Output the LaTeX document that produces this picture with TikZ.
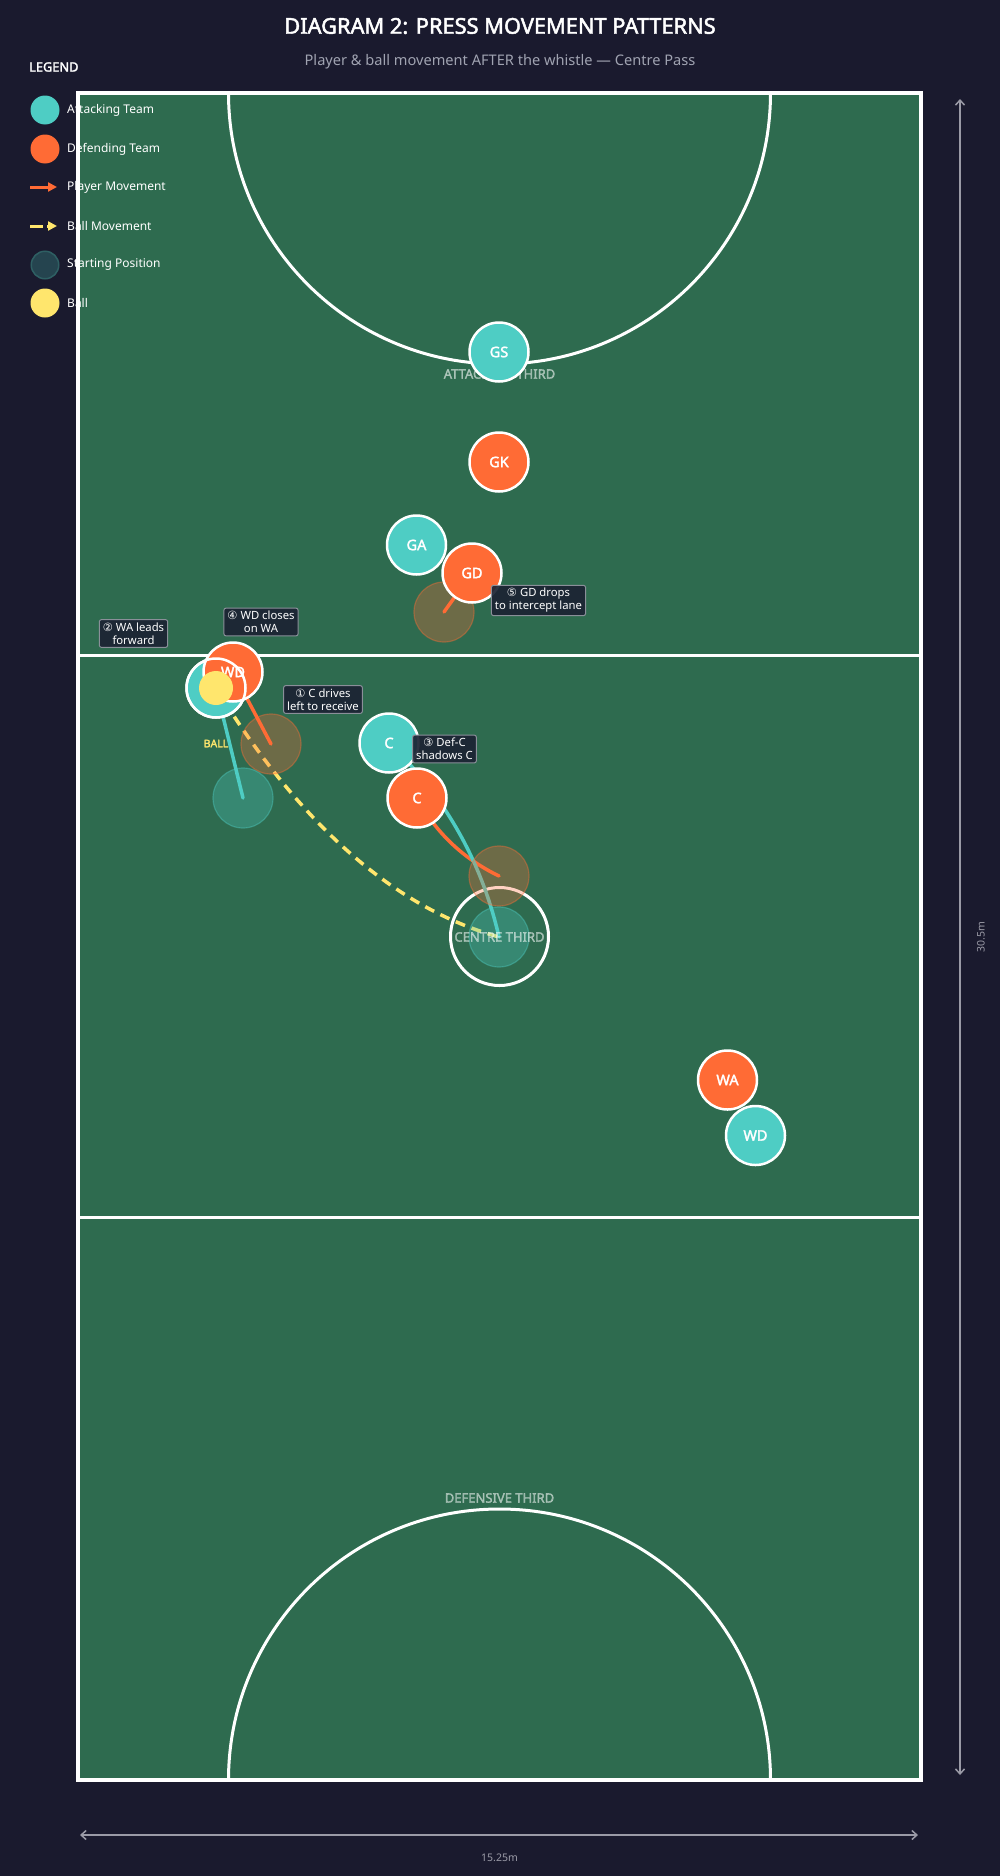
\documentclass[tikz,border=0pt]{standalone}
\usepackage{fontspec}
\setmainfont{Noto Sans}[AutoFakeBold=2.2]
\newfontfamily\symf{DejaVu Sans}
\usetikzlibrary{arrows.meta}
\pgfdeclarelayer{courtlayer}
\pgfdeclarelayer{movelayer}
\pgfdeclarelayer{ghostlayer}
\pgfsetlayers{courtlayer,movelayer,ghostlayer,main}
\definecolor{bg}{HTML}{1A1A2E}
\definecolor{court}{HTML}{2E6B4F}
\definecolor{att}{HTML}{4ECDC4}
\definecolor{def}{HTML}{FF6B35}
\definecolor{ballc}{HTML}{FFE66D}
\definecolor{boxc}{HTML}{1C2333}
\definecolor{notegray}{HTML}{8A8F99}
\definecolor{subgray}{HTML}{A0A3B1}
\definecolor{dimc}{HTML}{9A9AA6}
\definecolor{startfill}{HTML}{25444F}
\definecolor{startdraw}{HTML}{2E5F63}
\tikzset{
  player/.style={circle, minimum size=59pt, inner sep=0pt, line width=2.5pt, draw=white, text=white, font=\fontsize{14.5}{16}\selectfont\bfseries},
  attp/.style={player, fill=att},
  defp/.style={player, fill=def},
  ghosta/.style={circle, minimum size=60pt, inner sep=0pt, fill=att, fill opacity=0.3, draw=att, draw opacity=0.4, line width=1.2pt},
  ghostd/.style={circle, minimum size=60pt, inner sep=0pt, fill=def, fill opacity=0.3, draw=def, draw opacity=0.4, line width=1.2pt},
  ballnode/.style={circle, minimum size=34pt, inner sep=0pt, fill=ballc},
  mva/.style={draw=att, line width=3.5pt, line cap=round},
  mvd/.style={draw=def, line width=3.5pt, line cap=round},
  ballmv/.style={draw=ballc, line width=3.5pt, dash pattern=on 10pt off 7pt},
  note/.style={fill=boxc, fill opacity=0.92, text opacity=1, draw=notegray, draw opacity=1, line width=1pt, rounded corners=2pt, text=white, align=center, font=\fontsize{11.3}{13}\selectfont, inner xsep=3.5pt, inner ysep=3pt},
  zone/.style={text=white, text opacity=0.5, font=\fontsize{13}{15}\selectfont\bfseries},
  courtline/.style={draw=white, line width=3pt},
  dim/.style={draw=dimc, line width=1.5pt, {Straight Barb[length=5pt,width=9pt]}-{Straight Barb[length=5pt,width=9pt]}},
  legdot/.style={circle, minimum size=29pt, inner sep=0pt},
  legtext/.style={anchor=west, text=white, inner sep=0pt, font=\fontsize{12}{14}\selectfont},
  dimtext/.style={text=dimc, font=\fontsize{10.5}{12}\selectfont},
}
\begin{document}
\begin{tikzpicture}[x=1pt,y=-1pt]
\useasboundingbox (0,0) rectangle (1000,1876);
% ---------- court ----------
\begin{pgfonlayer}{courtlayer}
\fill[bg] (0,0) rectangle (1000,1876);
\fill[court] (78,93) rectangle (921,1780);
\begin{scope}
  \clip (78,93) rectangle (921,1780);
  \draw[courtline] (499.5,93) circle[radius=271];
  \draw[courtline] (499.5,1780) circle[radius=271];
\end{scope}
\draw[courtline] (78,655.3) -- (921,655.3);
\draw[courtline] (78,1217.7) -- (921,1217.7);
\draw[courtline] (499.5,936.5) circle[radius=49];
\draw[draw=white, line width=4pt] (78,93) rectangle (921,1780);
\end{pgfonlayer}

% ---------- starting positions ----------
\begin{pgfonlayer}{ghostlayer}
\node[ghostd] (gdS) at (444,612) {};
\node[ghostd] (wdS) at (271,744) {};
\node[ghosta] (waS) at (243,798) {};
\node[ghostd] (cdS) at (499,876) {};
\node[ghosta] (caS) at (499,937) {};
\node[zone] (zAtt) at (499.5,374) {ATTACKING THIRD};
\node[zone] (zCen) at (499.5,937) {CENTRE THIRD};
\node[zone] (zDef) at (499.5,1498) {DEFENSIVE THIRD};
\node[text=ballc, font=\fontsize{10.5}{12}\selectfont\bfseries] (ballLbl) at (216,743.5) {BALL};
\end{pgfonlayer}

% ---------- players ----------
\node[attp] (gs) at (499,352) {GS};
\node[defp] (gk) at (499,462) {GK};
\node[attp] (ga) at (416.5,545) {GA};
\node[defp] (gd) at (472,573) {GD};
\node[attp] (wa) at (216,688) {};
\node[defp] (wd) at (233,672) {WD};
\draw[white, line width=2.5pt] (wa.center) circle[radius=29.5];
\node[ballnode] (ball) at (216,688) {};
\node[attp] (ca) at (389,743) {C};
\node[defp] (cd) at (417,798) {C};
\node[defp] (wa2) at (727.5,1080) {WA};
\node[attp] (wd2) at (755.5,1135.5) {WD};

% ---------- movements ----------
\begin{pgfonlayer}{movelayer}
\draw[mvd] (gdS.center) -- (gd.center);
\draw[mvd] (wdS.center) -- (wd.center);
\draw[mva] (waS.center) -- (wa.center);
\draw[mvd] (cdS.center) .. controls (463.3,858.7) and (435.8,832.7) .. (cd.center);
\draw[mva] (caS.center) .. controls (481.5,861) and (444.8,796.3) .. (ca.center);
\draw[ballmv] (ball.center) .. controls (300.3,825.3) and (394.7,908) .. (caS.center);
\end{pgfonlayer}

% ---------- notes ----------
\node[note] (n2) at (133.5,633.5) {{\symf ②} WA leads\\forward};
\node[note] (n4) at (261,622) {{\symf ④} WD closes\\on WA};
\node[note] (n1) at (323,699.5) {{\symf ①} C drives\\left to receive};
\node[note] (n3) at (444.5,749) {{\symf ③} Def-C\\shadows C};
\node[note] (n5) at (538.5,600.5) {{\symf ⑤} GD drops\\to intercept lane};

% ---------- title ----------
\node[text=white, font=\fontsize{21.8}{25}\selectfont\bfseries] (title) at (500,26) {DIAGRAM 2: PRESS MOVEMENT PATTERNS};
\node[text=subgray, font=\fontsize{14.6}{17}\selectfont] (subtitle) at (500,62) {Player \& ball movement AFTER the whistle — Centre Pass};

% ---------- legend ----------
\node[anchor=west, inner sep=0pt, text=white, font=\fontsize{12.8}{15}\selectfont\bfseries] (legT) at (29,67) {LEGEND};
\node[legdot, fill=att] (lgA) at (45,110) {};
\node[legtext] (lgAt) at (67,110) {Attacking Team};
\node[legdot, fill=def] (lgD) at (45,149) {};
\node[legtext] (lgDt) at (67,149) {Defending Team};
\coordinate (lgP1) at (30,187);
\coordinate (lgP2) at (57,187);
\draw[def, line width=3pt, -{Triangle[length=9pt,width=9pt]}] (lgP1) -- (lgP2);
\node[legtext] (lgPt) at (67,187) {Player Movement};
\coordinate (lgB1) at (30,226);
\coordinate (lgB2) at (57,226);
\draw[ballc, line width=3pt, dash pattern=on 13pt off 4pt, -{Triangle[length=9pt,width=9pt]}] (lgB1) -- (lgB2);
\node[legtext] (lgBt) at (67,226) {Ball Movement};
\node[legdot, fill=startfill, draw=startdraw, line width=1.5pt, minimum size=27.5pt] (lgS) at (45,265) {};
\node[legtext] (lgSt) at (67,265) {Starting Position};
\node[legdot, fill=ballc] (lgBall) at (45,303) {};
\node[legtext] (lgBallt) at (67,303) {Ball};

% ---------- dimensions ----------
\coordinate (vTop) at (960,99);
\coordinate (vBot) at (960,1775);
\draw[dim] (vTop) -- (vBot);
\node[dimtext, rotate=90] (vLbl) at (981,937) {30.5m};
\coordinate (hL) at (80,1835);
\coordinate (hR) at (918,1835);
\draw[dim] (hL) -- (hR);
\node[dimtext] (hLbl) at (499.5,1858) {15.25m};
\end{tikzpicture}
\end{document}
